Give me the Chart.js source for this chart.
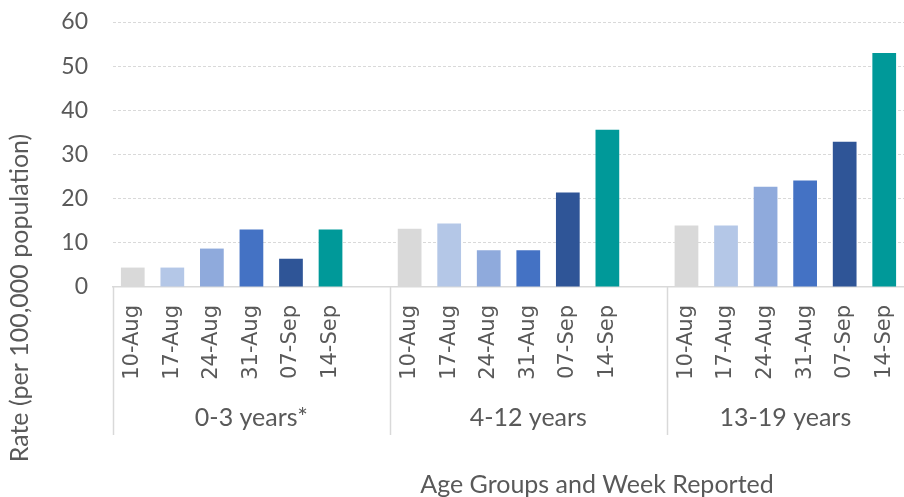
<!DOCTYPE html>
<html>
<head>
<meta charset="utf-8">
<script src="https://cdn.jsdelivr.net/npm/chart.js@4"></script>
<style>
  html, body { margin: 0; padding: 0; background: #fff; overflow: hidden; }
  #wrap { width: 904px; height: 497px; position: relative; }
</style>
</head>
<body>
<div id="wrap"><canvas id="chart"></canvas></div>
<script>
// weeks reported, one bar each per age group
const WEEKS = ['10-Aug', '17-Aug', '24-Aug', '31-Aug', '07-Sep', '14-Sep'];
const AGE_GROUPS = ['0-3 years*', '4-12 years', '13-19 years'];

// rate per 100,000 population
const RATE_0_3 = [4.4, 4.4, 8.7, 13.0, 6.4, 13.0];
const RATE_4_12 = [13.2, 14.4, 8.3, 8.3, 21.4, 35.6];
const RATE_13_19 = [13.9, 13.9, 22.7, 24.1, 32.9, 53.0];

const Y_TICKS = [0, 10, 20, 30, 40, 50, 60];

const WEEK_COLORS = ['#d9d9d9', '#b4c7e7', '#8faadc', '#4472c4', '#2f5597', '#009999'];

const TEXT = '#595959';
const LINE = '#d9d9d9';

// flatten into one category axis, with an empty slot between groups
const groupRates = [RATE_0_3, RATE_4_12, RATE_13_19];
const labels = [], values = [], colors = [], groupOf = [];
groupRates.forEach((rates, g) => {
  WEEKS.forEach((w, i) => {
    labels.push(w);
    values.push(rates[i]);
    colors.push(WEEK_COLORS[i]);
    groupOf.push(g);
  });
  if (g < groupRates.length - 1) {
    labels.push('');
    values.push(null);
    colors.push('rgba(0,0,0,0)');
    groupOf.push(g);
  }
});

// group separators, group names and axis titles
const multiLevel = {
  id: 'multiLevel',
  afterDraw(chart) {
    const ctx = chart.ctx;
    const x = chart.scales.x;
    const area = chart.chartArea;
    const n = labels.length;
    const half = (x.getPixelForValue(1) - x.getPixelForValue(0)) / 2;

    // boundaries of each group
    const bounds = [];
    let start = 0;
    for (let i = 1; i <= n; i++) {
      if (i === n || groupOf[i] !== groupOf[i - 1]) {
        bounds.push([x.getPixelForValue(start) - half, x.getPixelForValue(i - 1) + half]);
        start = i;
      }
    }

    ctx.save();
    ctx.strokeStyle = LINE;
    ctx.lineWidth = 1.5;
    bounds.forEach(([l]) => {
      ctx.beginPath();
      ctx.moveTo(Math.round(l) + 0.5, area.bottom);
      ctx.lineTo(Math.round(l) + 0.5, 435);
      ctx.stroke();
    });

    ctx.fillStyle = TEXT;
    ctx.font = '25px Lato';
    ctx.textAlign = 'center';
    ctx.textBaseline = 'middle';
    bounds.forEach(([l, r], g) => {
      ctx.fillText(AGE_GROUPS[g], (l + r) / 2, 418);
    });

    ctx.textBaseline = 'alphabetic';
    ctx.fillText('Age Groups and Week Reported', 597, 493);

    ctx.translate(20, 298);
    ctx.rotate(-Math.PI / 2);
    ctx.textBaseline = 'middle';
    ctx.fillText('Rate (per 100,000 population)', 0, 0);
    ctx.restore();
  }
};

new Chart(document.getElementById('chart'), {
  type: 'bar',
  data: {
    labels: labels,
    datasets: [{
      data: values,
      backgroundColor: colors,
      borderWidth: 0,
      barPercentage: 0.6,
      categoryPercentage: 1.0
    }]
  },
  plugins: [multiLevel],
  options: {
    responsive: true,
    maintainAspectRatio: false,
    animation: false,
    layout: { padding: { top: 22, left: 0, right: 0, bottom: 0 } },
    plugins: { legend: { display: false }, tooltip: { enabled: false } },
    scales: {
      x: {
        grid: { display: false, drawTicks: false },
        border: { display: true, color: LINE, width: 1.5 },
        ticks: {
          autoSkip: false,
          minRotation: 90,
          maxRotation: 90,
          padding: 18,
          color: TEXT,
          font: { family: 'DejaVu Sans', size: 21 }
        },
        afterFit: s => { s.height = 210; s.paddingLeft = 0; s.paddingRight = 0; }
      },
      y: {
        min: 0,
        max: 60,
        afterBuildTicks: s => { s.ticks = Y_TICKS.map(v => ({ value: v })); },
        grid: {
          drawTicks: false,
          color: c => c.tick && c.tick.value === 0 ? 'rgba(0,0,0,0)' : LINE,
          lineWidth: 1
        },
        border: { display: false, dash: [3, 2] },
        ticks: {
          padding: 25,
          color: TEXT,
          font: { family: 'Lato', size: 23 }
        },
        afterFit: s => { s.width = 113; s.paddingTop = 0; s.paddingBottom = 0; }
      }
    }
  }
});
</script>
</body>
</html>
